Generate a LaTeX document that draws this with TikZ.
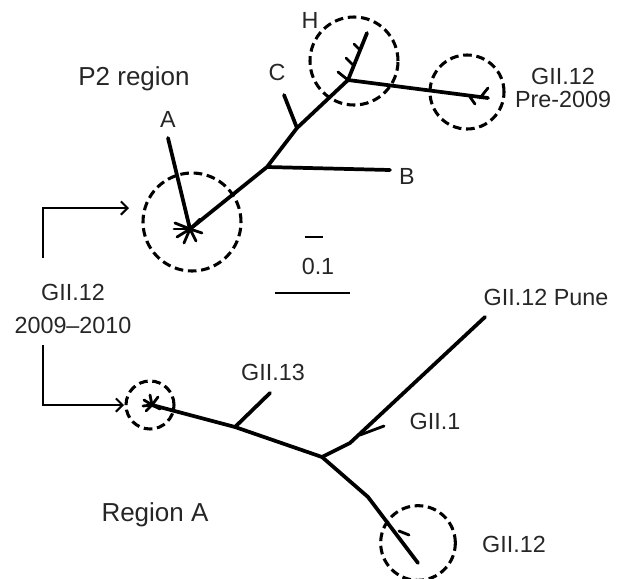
\documentclass[tikz,border=0pt]{standalone}
\usepackage{fontspec}
\setmainfont{Liberation Sans}
\usetikzlibrary{arrows.meta}

\tikzset{
  branch/.style={line width=2.8pt, line cap=round, line join=round},
  twig/.style={line width=2.1pt, line cap=round},
  cluster/.style={circle, draw, dash pattern={on 6.5pt off 3.5pt}, line width=2.3pt, inner sep=0pt},
  lbl/.style={inner sep=0.75pt, text=black!85, font=\fontsize{17.5}{20}\selectfont, align=center},
  region/.style={lbl, font=\fontsize{19.5}{22}\selectfont},
  pointer/.style={line width=1.5pt, -{Straight Barb[length=5pt, width=10pt]}},
}

\begin{document}
\begin{tikzpicture}[x=0.75pt,y=0.75pt,yscale=-1,xscale=1]
\useasboundingbox (0,0) rectangle (622,579);

% upper tree (P2 region)
\coordinate (pA) at (190,229);
\coordinate (pB) at (267,167);
\coordinate (pC) at (297,128);
\coordinate (pH) at (348,80);
\coordinate (tipA) at (168,138);
\coordinate (tipB) at (390,170);
\coordinate (tipC) at (284,95);
\coordinate (tipH) at (367,33);
\coordinate (tipP) at (488,98);

\draw[branch] (pA) -- (pB) -- (pC) -- (pH) -- (tipP);
\draw[branch] (pA) -- (tipA);
\draw[branch] (pB) -- (tipB);
\draw[branch] (pC) -- (tipC);
\draw[branch] (pH) -- (tipH);
% small twigs
\foreach \dx/\dy in {-15/-6, -13/8, -6/14, 6/12, 12/4, 10/-10, -4/-16, -16/0}
  \draw[twig] (pA) -- ++(\dx,\dy);
\draw[twig] (pH) -- ++(-10,-8);
\draw[twig] (pH) ++(6,-14) -- ++(-8,-8);
\draw[twig] (pH) ++(12,-30) -- ++(-6,-6);
\draw[twig] (tipP) ++(-8,0) -- ++(8,-10);
\draw[twig] (tipP) ++(-18,-1) -- ++(5,7);

\node[cluster, minimum size=73.5pt] (cA) at (192,222) {};
\node[cluster, minimum size=66pt] (cH) at (354,61) {};
\node[cluster, minimum size=55.5pt] (cP) at (467,92) {};

\node[region] (lP2) at (134,79) {P2 region};
\node[lbl] (lA) at (168,119) {A};
\node[lbl] (lB) at (407,176) {B};
\node[lbl] (lC) at (277,72) {C};
\node[lbl] (lH) at (310,20) {H};
\node[lbl] (lPre) at (563,88) {GII.12\\[-3pt]Pre-2009};

% scale bars
\coordinate (s1) at (305,237);
\coordinate (s2) at (323,237);
\coordinate (s3) at (275,293);
\coordinate (s4) at (350,293);
\draw[line width=2pt] (s1) -- (s2);
\draw[line width=2pt] (s3) -- (s4);
\node[lbl] (lScale) at (318,266) {0.1};

% lower tree (Region A)
\coordinate (rA) at (152,405);
\coordinate (r13) at (235,427);
\coordinate (rJ) at (322,457);
\coordinate (rK) at (350,443);
\coordinate (r1) at (360,435);
\coordinate (tip13) at (270,393);
\coordinate (tipPune) at (485,317);
\coordinate (rL) at (368,497);
\coordinate (tip12) at (418,563);

\draw[branch] (rA) -- (r13) -- (rJ);
\draw[branch] (r13) -- (tip13);
\draw[branch] (rJ) -- (rK) -- (tipPune);
\draw[branch] (rJ) -- (rL) -- (tip12);
\draw[twig] (r1) -- ++(24,-9);
\draw[twig] (409,535) -- ++(-10,-4);
\foreach \dx/\dy in {-8/-5, -6/6, 6/-8, 8/4, -2/-10, -9/1}
  \draw[twig] (rA) -- ++(\dx,\dy);

\node[cluster, minimum size=36pt] (cR) at (150,405) {};
\node[cluster, minimum size=56pt] (c12) at (418,543) {};

\node[lbl] (l13) at (273,372) {GII.13};
\node[lbl] (lPune) at (546,297) {GII.12 Pune};
\node[lbl] (l1) at (435,421) {GII.1};
\node[lbl] (l12) at (514,544) {GII.12};
\node[region] (lRegA) at (155,515) {Region A};

% 2009-2010 pointers
\node[lbl] (l0910) at (73,309) {GII.12\\[5pt]2009--2010};
\coordinate (b1) at (43,258);
\coordinate (a1) at (129,208);
\coordinate (b2) at (43,345);
\coordinate (a2) at (124,405);
\draw[pointer] (b1) |- (a1);
\draw[pointer] (b2) |- (a2);
\end{tikzpicture}
\end{document}
